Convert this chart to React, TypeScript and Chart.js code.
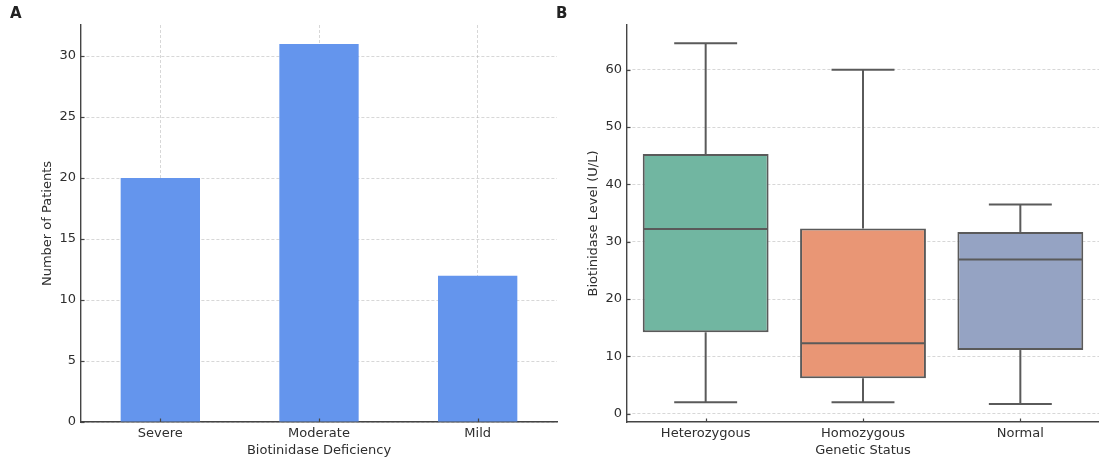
import React, { useEffect, useRef } from "react";
import { Chart, registerables } from "chart.js";

Chart.register(...registerables);

// ---- Panel A data ----
const severityLabels = ["Severe", "Moderate", "Mild"];
const patientCounts = [20, 31, 12];
const countTicks = [0, 5, 10, 15, 20, 25, 30];

// ---- Panel B data ----
const geneticLabels = ["Heterozygous", "Homozygous", "Normal"];
const levelMin = [2.0, 2.0, 1.7];
const levelQ1 = [14.2, 6.2, 11.1];
const levelMedian = [32.2, 12.3, 26.9];
const levelQ3 = [45.3, 32.3, 31.7];
const levelMax = [64.6, 60.0, 36.5];
const levelTicks = [0, 10, 20, 30, 40, 50, 60];

const boxColors = ["#71b6a1", "#e99675", "#95a3c3"];
const barColor = "#6495ED";
const lineGray = "#5a5a5a";
const textColor = "#2e2e2e";
const spineColor = "#444444";
const gridColor = "rgba(175,175,175,0.5)";
const FONT = "'DejaVu Sans', sans-serif";

const boxWhiskers = {
  id: "boxWhiskers",
  afterDatasetsDraw(chart: any) {
    const meta = chart.getDatasetMeta(0);
    const ys = chart.scales.y;
    const ctx = chart.ctx;
    ctx.save();
    ctx.strokeStyle = lineGray;
    ctx.lineWidth = 2;
    ctx.lineCap = "butt";
    const line = (x1: number, y1: number, x2: number, y2: number) => {
      ctx.beginPath();
      ctx.moveTo(x1, y1);
      ctx.lineTo(x2, y2);
      ctx.stroke();
    };
    meta.data.forEach((bar: any, i: number) => {
      const { x, width } = bar.getProps(["x", "width"], true);
      const half = width / 2;
      const yMin = ys.getPixelForValue(levelMin[i]);
      const yQ1 = ys.getPixelForValue(levelQ1[i]);
      const yMed = ys.getPixelForValue(levelMedian[i]);
      const yQ3 = ys.getPixelForValue(levelQ3[i]);
      const yMax = ys.getPixelForValue(levelMax[i]);
      line(x, yQ3, x, yMax);
      line(x, yQ1, x, yMin);
      line(x - half / 2, yMax, x + half / 2, yMax);
      line(x - half / 2, yMin, x + half / 2, yMin);
      line(x - half + 1, yMed, x + half - 1, yMed);
    });
    ctx.restore();
  },
};

// small inward tick marks like the reference
const innerTicks = {
  id: "innerTicks",
  afterDraw(chart: any) {
    const ctx = chart.ctx;
    const { left, bottom } = chart.chartArea;
    ctx.save();
    ctx.strokeStyle = spineColor;
    ctx.lineWidth = 1.2;
    const xs = chart.scales.x;
    const ys = chart.scales.y;
    xs.ticks.forEach((_: any, i: number) => {
      const px = Math.round(xs.getPixelForTick(i)) + 0.5;
      ctx.beginPath();
      ctx.moveTo(px, bottom);
      ctx.lineTo(px, bottom - 3.5);
      ctx.stroke();
    });
    ys.ticks.forEach((t: any) => {
      const py = Math.round(ys.getPixelForValue(t.value)) + 0.5;
      ctx.beginPath();
      ctx.moveTo(left, py);
      ctx.lineTo(left + 3.5, py);
      ctx.stroke();
    });
    ctx.restore();
  },
};

function makeY(min: number, max: number, ticks: number[], title: string, titlePad: number, width: number) {
  return {
    type: "linear",
    min,
    max,
    z: 1,
    afterBuildTicks: (s: any) => {
      s.ticks = ticks.map((v) => ({ value: v }));
    },
    afterFit: (s: any) => {
      s.width = width;
    },
    grid: { display: true, color: gridColor, lineWidth: 1, drawTicks: false },
    border: { display: true, color: spineColor, width: 1.4, dash: [3, 2] },
    ticks: { color: textColor, font: { family: FONT, size: 13 }, padding: 5 },
    title: {
      display: true,
      text: title,
      color: textColor,
      font: { family: FONT, size: 13 },
      padding: { top: titlePad, bottom: 0 },
    },
  };
}

function makeX(title: string, showGrid: boolean) {
  return {
    type: "category",
    offset: true,
    z: 1,
    afterFit: (s: any) => {
      s.height = 42;
    },
    grid: { display: showGrid, offset: false, color: gridColor, lineWidth: 1, drawTicks: false },
    border: { display: true, color: spineColor, width: 1.4, dash: [3, 2] },
    ticks: { color: textColor, font: { family: FONT, size: 13 }, padding: 4, maxRotation: 0, autoSkip: false },
    title: {
      display: true,
      text: title,
      color: textColor,
      font: { family: FONT, size: 13 },
      padding: { top: 0, bottom: 6 },
    },
  };
}

function BarPanel() {
  const ref = useRef<HTMLCanvasElement>(null);
  useEffect(() => {
    const chart = new Chart(ref.current as HTMLCanvasElement, {
      type: "bar",
      data: {
        labels: severityLabels,
        datasets: [
          {
            data: patientCounts,
            backgroundColor: barColor,
            borderWidth: 0,
            barPercentage: 0.5,
            categoryPercentage: 1,
          },
        ],
      },
      options: {
        responsive: false,
        animation: false,
        devicePixelRatio: 1,
        layout: { padding: { top: 25, right: 3, left: 0, bottom: 0 } },
        plugins: { legend: { display: false }, tooltip: { enabled: false } },
        scales: {
          x: makeX("Biotinidase Deficiency", true),
          y: makeY(0, 32.55, countTicks, "Number of Patients", 40, 81),
        } as any,
      },
      plugins: [innerTicks],
    });
    return () => chart.destroy();
  }, []);
  return (
    <canvas
      ref={ref}
      width={560}
      height={464}
      style={{ position: "absolute", left: 0, top: 0, width: 560, height: 464 }}
    />
  );
}

function BoxPanel() {
  const ref = useRef<HTMLCanvasElement>(null);
  useEffect(() => {
    const chart = new Chart(ref.current as HTMLCanvasElement, {
      type: "bar",
      data: {
        labels: geneticLabels,
        datasets: [
          {
            data: geneticLabels.map((_, i) => [levelQ1[i], levelQ3[i]]),
            backgroundColor: boxColors,
            borderColor: lineGray,
            borderWidth: 2,
            borderSkipped: false,
            barPercentage: 0.8,
            categoryPercentage: 1,
          } as any,
        ],
      },
      options: {
        responsive: false,
        animation: false,
        devicePixelRatio: 1,
        layout: { padding: { top: 25, right: 0, left: 0, bottom: 0 } },
        plugins: { legend: { display: false }, tooltip: { enabled: false } },
        scales: {
          x: makeX("Genetic Status", false),
          y: makeY(-1.45, 67.8, levelTicks, "Biotinidase Level (U/L)", 26, 67),
        } as any,
      },
      plugins: [boxWhiskers, innerTicks],
    });
    return () => chart.destroy();
  }, []);
  return (
    <canvas
      ref={ref}
      width={539}
      height={464}
      style={{ position: "absolute", left: 560, top: 0, width: 539, height: 464 }}
    />
  );
}

const panelLabel: React.CSSProperties = {
  position: "absolute",
  top: 6,
  fontFamily: FONT,
  fontWeight: "bold",
  fontSize: 15,
  lineHeight: "15px",
  color: "#222",
};

export default function App() {
  return (
    <div
      style={{
        position: "fixed",
        left: 0,
        top: 0,
        width: 1099,
        height: 464,
        background: "#fff",
        overflow: "hidden",
      }}
    >
      <BarPanel />
      <BoxPanel />
      <div style={{ ...panelLabel, left: 10 }}>A</div>
      <div style={{ ...panelLabel, left: 556 }}>B</div>
    </div>
  );
}
